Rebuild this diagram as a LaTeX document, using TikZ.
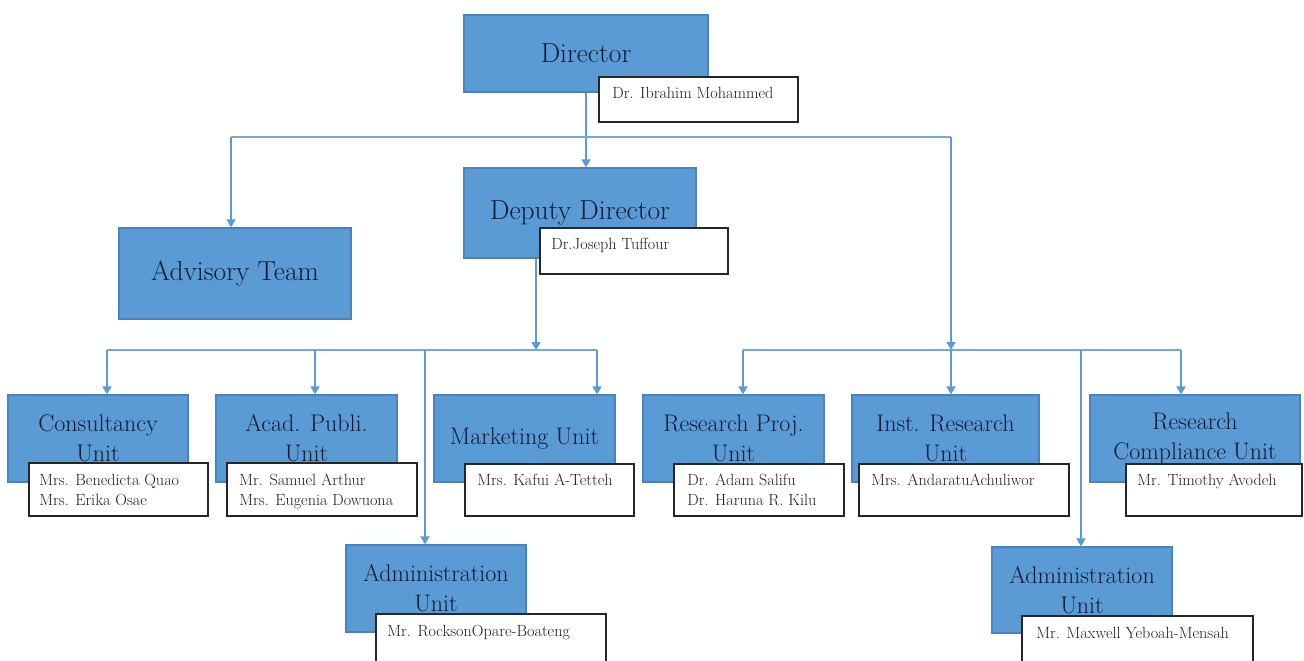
\documentclass[tikz,border=0pt]{standalone}
\usepackage{fontspec}
\usetikzlibrary{arrows.meta,calc}

\definecolor{boxblue}{HTML}{5B9BD5}
\definecolor{boxedge}{HTML}{4A82BD}
\definecolor{linkblue}{HTML}{5B9BD5}
\definecolor{unitink}{HTML}{111A33}
\definecolor{nameink}{HTML}{1E1E1E}

\tikzset{
  unitbox/.style={draw=boxedge, fill=boxblue, line width=1.2pt, inner sep=0pt,
                  text=unitink, align=center},
  bigtext/.style={font=\fontsize{27.5}{32}\selectfont},
  unittext/.style={font=\fontsize{24}{30}\selectfont},
  namebox/.style={draw=black!85, fill=white, line width=1.5pt, inner sep=0pt},
  nametext/.style={anchor=north west, inner sep=0pt, align=left, text=nameink,
                   font=\fontsize{16.2}{20}\selectfont},
  link/.style={draw=linkblue, line width=1.8pt},
  buslink/.style={draw=linkblue!85, line width=1.1pt},
  arrowlink/.style={link, -{Triangle[width=9pt,length=8pt]}},
}

% box given by its corners: name, style, x1, y1, x2, y2, text
\newcommand{\cornerbox}[7]{%
  \node[#2, minimum width={(#5-#3)*1pt}, minimum height={(#6-#4)*1pt}]
    (#1) at ({(#3+#5)/2},{(#4+#6)/2}) {#7};}

\begin{document}
\begin{tikzpicture}[x=1pt, y=-1pt]
  \useasboundingbox (0,0) rectangle (1304,661);
  \clip (0,0) rectangle (1304,661);

  % top levels
  \cornerbox{dir}{unitbox,bigtext}{464}{15}{708}{92}{Director}
  \cornerbox{dep}{unitbox,bigtext}{464}{168}{696}{258}{Deputy Director}
  \cornerbox{adv}{unitbox,bigtext}{119}{228}{351}{319}{Advisory Team}

  % units
  \cornerbox{cons}{unitbox,unittext}{8}{395}{188}{482}{Consultancy\\Unit}
  \cornerbox{acad}{unitbox,unittext}{216}{395}{397}{482}{Acad. Publi.\\Unit}
  \cornerbox{mark}{unitbox,unittext}{434}{395}{615}{482}{Marketing Unit}
  \cornerbox{rproj}{unitbox,unittext}{643}{395}{824}{482}{Research Proj.\\Unit}
  \cornerbox{inst}{unitbox,unittext}{852}{395}{1039}{482}{Inst. Research\\Unit}
  \cornerbox{rcomp}{unitbox,unittext}{1090}{395}{1300}{482}{Research\\Compliance Unit}
  \cornerbox{adma}{unitbox,unittext}{346}{545}{526}{632}{Administration\\Unit}
  \cornerbox{admb}{unitbox,unittext}{992}{547}{1172}{633}{Administration\\Unit}

  % name cards
  \cornerbox{dirN}{namebox}{599}{77}{798}{122}{}
  \cornerbox{depN}{namebox}{540}{228}{728}{274}{}
  \cornerbox{consN}{namebox}{29}{463}{208}{516}{}
  \cornerbox{acadN}{namebox}{227}{463}{417}{516}{}
  \cornerbox{markN}{namebox}{465}{464}{634}{516}{}
  \cornerbox{rprojN}{namebox}{674}{464}{844}{516}{}
  \cornerbox{instN}{namebox}{859}{464}{1069}{516}{}
  \cornerbox{rcompN}{namebox}{1126}{464}{1302}{516}{}
  \cornerbox{admaN}{namebox}{376}{614}{606}{672}{}
  \cornerbox{admbN}{namebox}{1022}{616}{1253}{672}{}

  \node[nametext] (dirNt)   at ($(dirN.north west)+(14,11)$)   {Dr. Ibrahim Mohammed};
  \node[nametext] (depNt)   at ($(depN.north west)+(12,11)$)   {Dr.Joseph Tuffour};
  \node[nametext] (consNt)  at ($(consN.north west)+(11,12)$)  {Mrs. Benedicta Quao\\Mrs. Erika Osae};
  \node[nametext] (acadNt)  at ($(acadN.north west)+(13,12)$)  {Mr. Samuel Arthur\\Mrs. Eugenia Dowuona};
  \node[nametext] (markNt)  at ($(markN.north west)+(13,11)$)  {Mrs. Kafui A-Tetteh};
  \node[nametext] (rprojNt) at ($(rprojN.north west)+(14,11)$) {Dr. Adam Salifu\\Dr. Haruna R. Kilu};
  \node[nametext] (instNt)  at ($(instN.north west)+(13,11)$)  {Mrs. AndaratuAchuliwor};
  \node[nametext] (rcompNt) at ($(rcompN.north west)+(12,11)$) {Mr. Timothy Avodeh};
  \node[nametext] (admaNt)  at ($(admaN.north west)+(12,12)$)  {Mr. RocksonOpare-Boateng};
  \node[nametext] (admbNt)  at ($(admbN.north west)+(15,12)$)  {Mr. Maxwell Yeboah-Mensah};

  % bus coordinates
  \coordinate (busA) at (231,137);
  \coordinate (busB) at (951,137);
  \coordinate (rbusL) at (743,350);
  \coordinate (rbusM) at (951,350);
  \coordinate (rbusA) at (1081,350);
  \coordinate (rbusR) at (1181,350);
  \coordinate (lbusL) at (107,350);
  \coordinate (lbusB) at (315,350);
  \coordinate (lbusA) at (425,350);
  \coordinate (lbusM) at (536,350);
  \coordinate (lbusR) at (597,350);

  % director level
  \draw[arrowlink] (dir.south) -- (dir.south |- dep.north);
  \draw[buslink] (busA) -- (busB);
  \draw[arrowlink] (busA) -- (busA |- adv.north);
  \draw[arrowlink] (busB) -- (rbusM);

  % research side
  \draw[buslink] (rbusL) -- (rbusR);
  \draw[arrowlink] (rbusL) -- (rbusL |- rproj.north);
  \draw[arrowlink] (rbusM) -- (rbusM |- inst.north);
  \draw[arrowlink] (rbusR) -- (rbusR |- rcomp.north);
  \draw[arrowlink] (rbusA) -- (rbusA |- admb.north);

  % deputy side
  \draw[arrowlink] (lbusM |- dep.south) -- (lbusM);
  \draw[buslink] (lbusL) -- (lbusR);
  \draw[arrowlink] (lbusL) -- (lbusL |- cons.north);
  \draw[arrowlink] (lbusB) -- (lbusB |- acad.north);
  \draw[arrowlink] (lbusR) -- (lbusR |- mark.north);
  \draw[arrowlink] (lbusA) -- (lbusA |- adma.north);
\end{tikzpicture}
\end{document}
